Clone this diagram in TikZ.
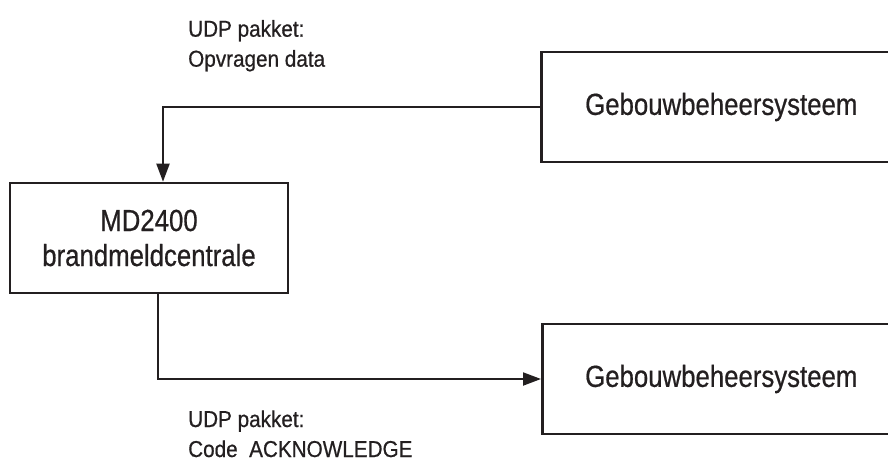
\documentclass[tikz,border=0pt]{standalone}
\usepackage{fontspec}
\usetikzlibrary{arrows.meta}
\newfontfamily\boxfont[FakeStretch=0.845,FakeBold=0.6]{Liberation Sans}
\newfontfamily\lblfont[FakeStretch=0.9,FakeBold=0.6]{Liberation Sans}
\definecolor{ink}{HTML}{231F20}
\tikzset{
  box/.style={draw=ink, line width=2.6pt, minimum height=110pt, inner sep=0pt,
    text=ink, font=\boxfont\fontsize{30.5}{35}\selectfont, align=center},
  conn/.style={draw=ink, line width=2pt, -{Triangle[length=18pt,width=13pt]}},
  lbl/.style={text=ink, font=\lblfont\fontsize{23}{30}\selectfont, inner sep=0pt, anchor=base west}
}
\begin{document}
\begin{tikzpicture}[x=1pt,y=-1pt]
\useasboundingbox (0,0) rectangle (888,461);
\clip (0,0) rectangle (888,461);
\node[box, minimum width=278pt] (md) at (149,238) {MD2400\\brandmeldcentrale};
\node[box, minimum width=360pt, anchor=west] (gb1) at (540,107) {Gebouwbeheersysteem};
\node[box, minimum width=358pt, anchor=west] (gb2) at (541,379) {Gebouwbeheersysteem};
\draw[conn] (gb1.west) -| ([xshift=14pt]md.north);
\draw[conn] ([xshift=9pt]md.south) |- (gb2.west);
\node[lbl] (l1a) at (188,36.7) {UDP pakket:};
\node[lbl] (l1b) at (188,66.7) {Opvragen data};
\node[lbl] (l2a) at (188,427) {UDP pakket:};
\node[lbl] (l2b) at (188,457) {Code\ \ ACKNOWLEDGE};
\end{tikzpicture}
\end{document}
